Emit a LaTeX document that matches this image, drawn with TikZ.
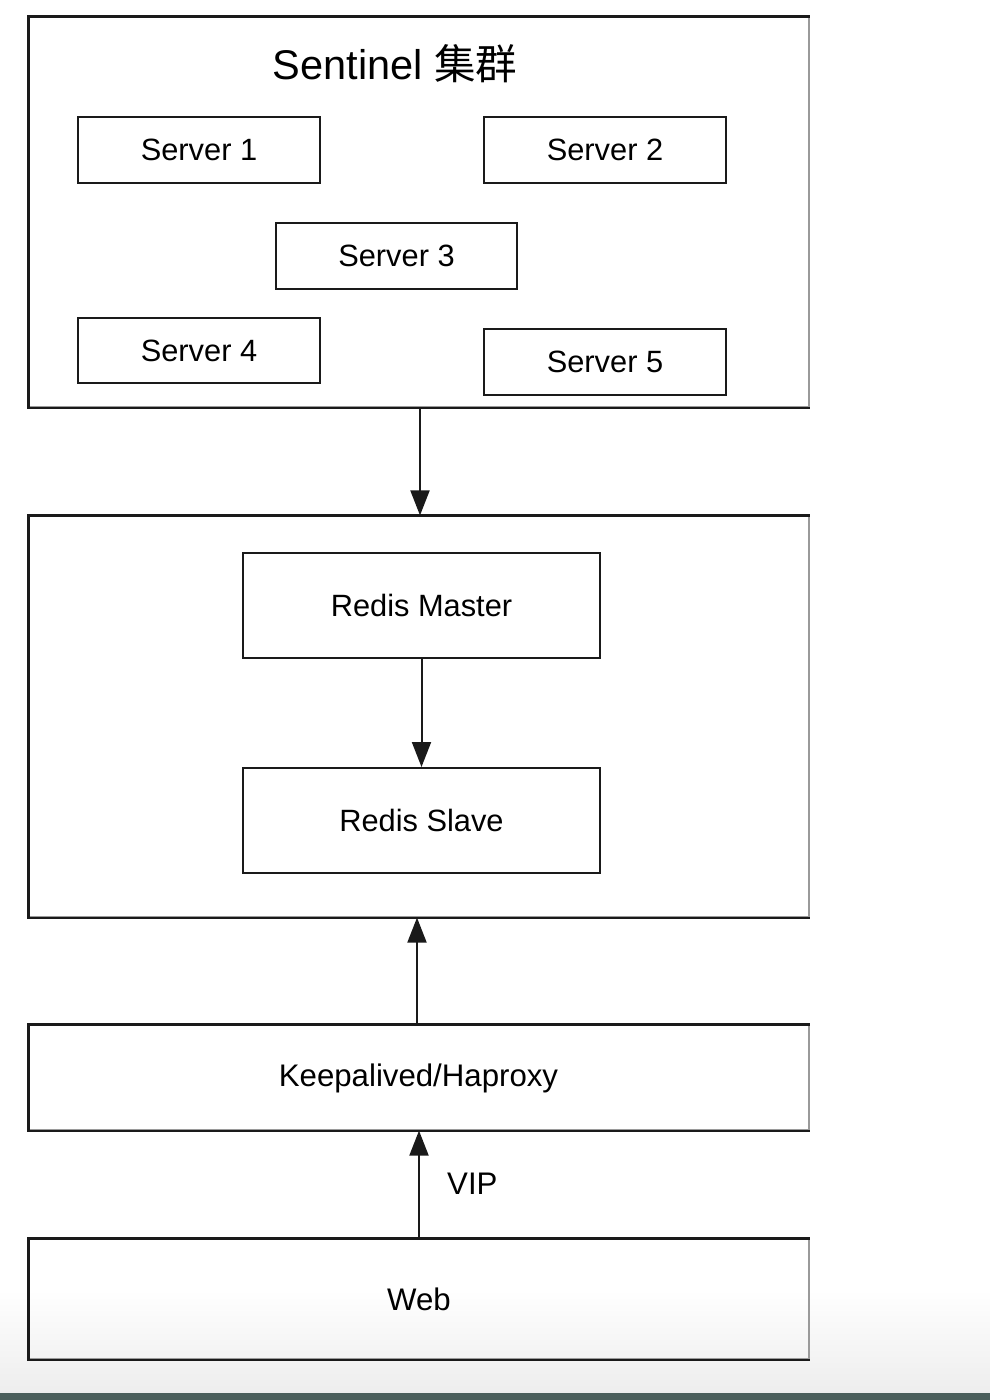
\documentclass[tikz,border=0pt]{standalone}
\usepackage{fontspec}
\setmainfont{Liberation Sans}
\newfontfamily\cjk{Noto Sans CJK SC}
\usetikzlibrary{arrows.meta,shapes.geometric}
\definecolor{linec}{HTML}{1A1A1A}
\definecolor{edgec}{HTML}{9A9A9A}
\definecolor{barc}{HTML}{4B5F5C}
\tikzset{
  inner/.style={draw=linec, line width=2pt, fill=white, inner sep=0pt, font=\fontsize{30.8}{36}\selectfont, text=black},
  outerbox/.style={draw=edgec, line width=1.2pt, inner sep=0pt, minimum width=780pt},
  darkedge/.style={draw=linec, line width=2.2pt},
  arr/.style={draw=linec, line width=2pt, -{Triangle[length=25pt,width=19pt]}},
  lbl/.style={font=\fontsize{31.2}{36}\selectfont, text=black, inner sep=0pt}
}
\begin{document}
\begin{tikzpicture}[x=1pt,y=-1pt]
\useasboundingbox (0,0) rectangle (990,1400);
% background near bottom
\shade[top color=white, bottom color=black!7] (0,1290) rectangle (990,1393);
\fill[barc] (0,1393) rectangle (990,1400);
% outer containers
\node[outerbox, minimum height=390pt] (sent) at (419,212) {};
\node[outerbox, minimum height=401pt] (redis) at (419,716.5) {};
\node[outerbox, minimum height=105pt] (keep) at (419,1077.5) {};
\node[outerbox, minimum height=120pt] (web) at (419,1299) {};
\foreach \b in {sent,redis,keep,web}{
  \draw[darkedge] (\b.north east) -- (\b.north west) -- (\b.south west) -- (\b.south east);
}
% title
\node[inner sep=0pt, text=black] (title) at (395,64) {\fontsize{41.5}{48}\selectfont Sentinel {\cjk 集群}};
% servers
\node[inner, minimum width=242pt, minimum height=66pt] (s1) at (199,150) {Server 1};
\node[inner, minimum width=242pt, minimum height=66pt] (s2) at (605,150) {Server 2};
\node[inner, minimum width=241pt, minimum height=66pt] (s3) at (396.5,256) {Server 3};
\node[inner, minimum width=242pt, minimum height=65pt] (s4) at (199,350.5) {Server 4};
\node[inner, minimum width=242pt, minimum height=66pt] (s5) at (605,362) {Server 5};
% redis
\node[inner, minimum width=357pt, minimum height=105pt] (master) at (421.5,605.5) {Redis Master};
\node[inner, minimum width=357pt, minimum height=105pt] (slave) at (421.5,820.5) {Redis Slave};
% texts of wide boxes
\node[lbl] (keeptext) at (418.5,1078) {Keepalived/Haproxy};
\node[lbl] (webtext) at (419,1299) {Web};
% arrows
\draw[arr] ([xshift=1pt]sent.south) -- ([xshift=1pt]redis.north);
\draw[arr] (master.south) -- (slave.north);
\draw[arr] ([xshift=-2pt]keep.north) -- ([xshift=-2pt]redis.south);
\draw[arr] (web.north) -- (keep.south);
\node[lbl, anchor=west] (vip) at (447,1184) {VIP};
\end{tikzpicture}
\end{document}
